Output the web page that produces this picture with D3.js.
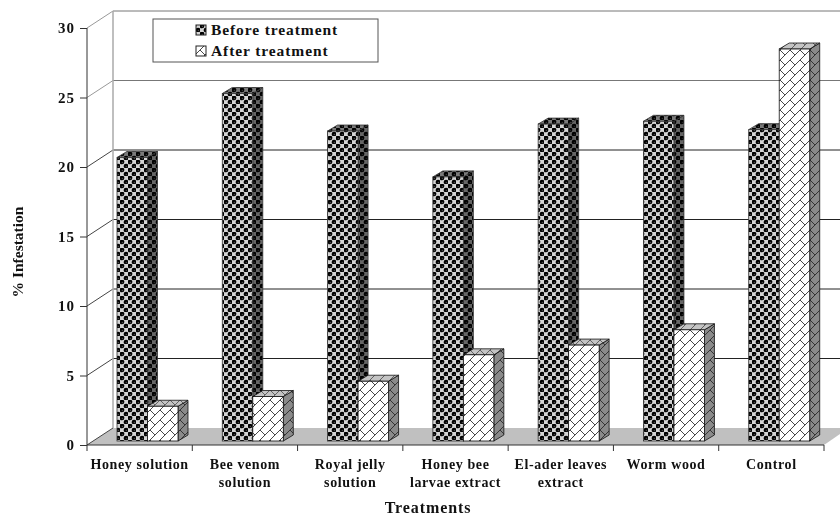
<!DOCTYPE html>
<html><head><meta charset="utf-8">
<script src="https://cdn.jsdelivr.net/npm/d3@7"></script>
<style>html,body{margin:0;padding:0;background:#fff}svg{display:block;filter:blur(0.35px)}text{font-family:"Liberation Serif",serif;font-weight:bold;fill:#111}</style>
</head><body><svg id="c" width="840" height="517"></svg>
<script>
const categories=[["Honey solution"],["Bee venom","solution"],["Royal jelly","solution"],["Honey bee","larvae extract"],["El-ader leaves","extract"],["Worm wood"],["Control"]];
const beforeValues=[20.4,25,22.3,19,22.8,23,22.4];
const afterValues=[2.5,3.2,4.3,6.2,6.9,8,28.2];
const yTicks=[0,5,10,15,20,25,30];
const seriesNames=["Before treatment","After treatment"];

const svg=d3.select("#c");
const y=d3.scaleLinear().domain([0,30]).range([445,28]);
const x=d3.scaleBand().domain(d3.range(categories.length)).range([87,824]);
const wall={dx:26,dy:-17}, barOff={dx:30,dy:-4}, depth={dx:10,dy:-6}, bw=30.5;
const defs=svg.append("defs");
function dark(id,bg,fg,hi){
  const p=defs.append("pattern").attr("id",id).attr("patternUnits","userSpaceOnUse").attr("width",8).attr("height",8);
  p.append("rect").attr("width",8).attr("height",8).attr("fill",bg);
  [[2,2],[6,6]].forEach(c=>{
    p.append("circle").attr("cx",c[0]).attr("cy",c[1]).attr("r",2.35).attr("fill",fg);
    p.append("circle").attr("cx",c[0]+.4).attr("cy",c[1]+.5).attr("r",.8).attr("fill",hi);
  });
}
dark("bf","#d4d4d4","#000","#444");
dark("bt","#7a7a7a","#000","#333");
dark("bs","#666","#000","#222");
function zig(id,bg,st){
  const p=defs.append("pattern").attr("id",id).attr("patternUnits","userSpaceOnUse").attr("width",10).attr("height",10);
  p.append("rect").attr("width",10).attr("height",10).attr("fill",bg);
  p.append("path").attr("d","M0 0L5 5M-1 1L1 -1M9 11L11 9M-1 11L11 -1").attr("stroke",st).attr("stroke-width",.9).attr("fill","none");
}
zig("af","#fff","#333");
zig("at","#c4c4c4","#555");
zig("as","#8a8a8a","#2a2a2a");

// floor
const y0=y(0);
svg.append("path").attr("d",`M${x.range()[0]} ${y0}L${x.range()[0]+wall.dx} ${y0+wall.dy}L840 ${y0+wall.dy}L840 ${y0-11}L${x.range()[1]} ${y0}Z`).attr("fill","#c0c0c0");

// gridlines
yTicks.forEach(t=>{
  const yy=y(t);
  const col=t>=25?"#777":"#222";
  if(t>0) svg.append("line").attr("x1",87+wall.dx).attr("x2",840).attr("y1",yy+wall.dy).attr("y2",yy+wall.dy).attr("stroke",col).attr("stroke-width",1);
  svg.append("line").attr("x1",87).attr("x2",87+wall.dx).attr("y1",yy).attr("y2",yy+wall.dy).attr("stroke",t>=25?"#999":"#444").attr("stroke-width",1);
});
svg.append("line").attr("x1",113).attr("x2",113).attr("y1",y(30)+wall.dy).attr("y2",y0+wall.dy).attr("stroke","#aaa").attr("stroke-width",1.5);

// bars
function bar(i,v,k){
  const x0=x(i)+barOff.dx+k*bw, x1=x0+bw, yb=y0+barOff.dy, yt=y(v)+barOff.dy;
  const pre=k?"a":"b";
  const g=svg.append("g").attr("stroke",k?"#111":"#333").attr("stroke-width",.8);
  g.append("path").attr("d",`M${x1} ${yb}L${x1+depth.dx} ${yb+depth.dy}L${x1+depth.dx} ${yt+depth.dy}L${x1} ${yt}Z`).attr("fill",`url(#${pre}s)`);
  g.append("path").attr("d",`M${x0} ${yt}L${x0+depth.dx} ${yt+depth.dy}L${x1+depth.dx} ${yt+depth.dy}L${x1} ${yt}Z`).attr("fill",`url(#${pre}t)`);
  g.append("rect").attr("x",x0).attr("y",yt).attr("width",bw).attr("height",yb-yt).attr("fill",`url(#${pre}f)`);
}
categories.forEach((c,i)=>{bar(i,beforeValues[i],0);bar(i,afterValues[i],1);});

// y axis
const yAxis=d3.axisLeft(y).tickValues(yTicks).tickSize(7).tickPadding(5);
const ga=svg.append("g").attr("transform","translate(87,0)").call(yAxis);
ga.selectAll("path,line").attr("stroke","#333").attr("stroke-width",1);
ga.select("path").attr("d",`M0 ${y(30)}V${y0}`);
ga.selectAll("text").style("font-size","15px").attr("fill","#111").style("letter-spacing","1px");
// x axis
const tickPos=d3.range(categories.length+1).map(i=>i===categories.length?x.range()[1]:x(i));
svg.append("line").attr("x1",87).attr("x2",x.range()[1]).attr("y1",y0).attr("y2",y0).attr("stroke","#333");
svg.selectAll(".xt").data(tickPos).join("line").attr("x1",d=>d).attr("x2",d=>d).attr("y1",y0).attr("y2",y0+6).attr("stroke","#333");
categories.forEach((c,i)=>{
  c.forEach((s,j)=>{
    svg.append("text").attr("x",x(i)+x.bandwidth()/2).attr("y",469+j*18).attr("text-anchor","middle").style("font-size","14px").style("letter-spacing",".6px").text(s);
  });
});
svg.append("text").attr("x",428).attr("y",513).attr("text-anchor","middle").style("font-size","16px").style("letter-spacing",".9px").text("Treatments");
svg.append("text").attr("transform","translate(23,252) rotate(-90)").attr("text-anchor","middle").style("font-size","15.5px").text("% Infestation");

// legend
svg.append("rect").attr("x",153).attr("y",19).attr("width",225).attr("height",43).attr("fill","#fff").attr("stroke","#555").attr("stroke-width",1);
seriesNames.forEach((s,i)=>{
  const ly=30+i*21;
  svg.append("rect").attr("x",196).attr("y",ly-5).attr("width",10).attr("height",10).attr("fill",i?"url(#af)":"url(#bf)").attr("stroke","#222");
  svg.append("text").attr("x",211).attr("y",ly+5).style("font-size","15.5px").style("letter-spacing",".9px").text(s);
});
</script></body></html>
